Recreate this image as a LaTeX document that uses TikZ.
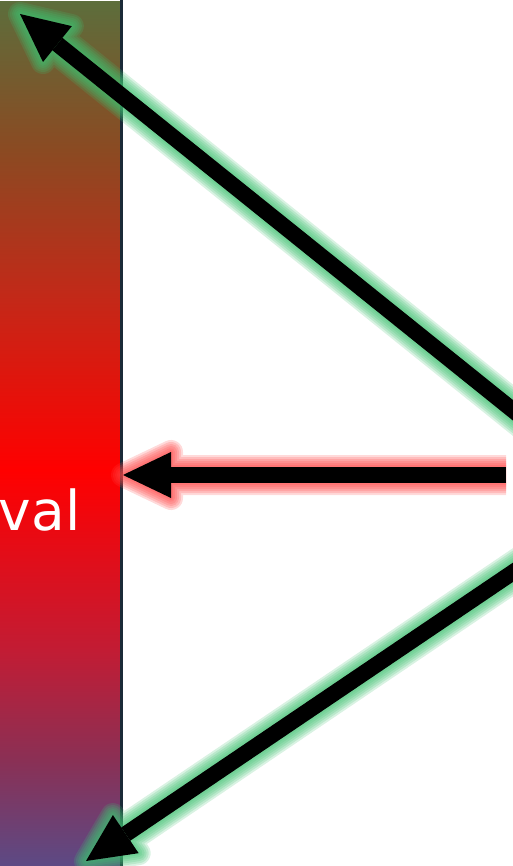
\documentclass[tikz,border=0pt]{standalone}
\usepackage{fontspec}
\usetikzlibrary{calc}
\newfontfamily\labelfont{DejaVu Sans}

\definecolor{bandA}{HTML}{5C6E3C}
\definecolor{bandB}{HTML}{8B4A22}
\definecolor{bandC}{HTML}{C42818}
\definecolor{bandD}{HTML}{FF0000}
\definecolor{bandE}{HTML}{C21C34}
\definecolor{bandF}{HTML}{8A3055}
\definecolor{bandG}{HTML}{5C4A85}
\definecolor{edgecol}{HTML}{1B2A38}
\definecolor{glowgreen}{HTML}{3FC070}
\definecolor{glowred}{HTML}{FF4545}

\pgfdeclareverticalshading{bandshade}{121pt}{%
  color(0pt)=(bandG); color(106pt)=(bandF); color(216pt)=(bandE);
  color(396pt)=(bandD); color(566pt)=(bandC); color(716pt)=(bandB);
  color(866pt)=(bandA)}

% arrow with a soft glow: #1 start, #2 tip, #3 glow colour
\newcommand{\glowarrow}[3]{%
  \coordinate (hb) at ($(#2)!48pt!(#1)$);
  \coordinate (hl) at ($(hb)!23pt!90:(#2)$);
  \coordinate (hr) at ($(hb)!23pt!-90:(#2)$);
  \foreach \g in {24,20,16,12,8,4} {
    \begin{scope}[transparency group, opacity=0.2]
      \draw[#3, line width=16pt+\g pt] (#1) -- (hb);
      \filldraw[#3, line width=\g pt, line join=round] (#2) -- (hl) -- (hr) -- cycle;
    \end{scope}
  }
  \draw[shaft] (#1) -- (hb);
  \fill[black] (#2) -- (hl) -- (hr) -- cycle;
}

\begin{document}
\begin{tikzpicture}[
  x=1pt, y=-1pt,
  shaft/.style={line width=16pt, black},
  lbl/.style={font=\labelfont\fontsize{55}{60}\selectfont, text=white, inner sep=0pt}
]
\useasboundingbox (0,0) rectangle (513,866);
\clip (0,0) rectangle (513,866);

% coloured band with its label
\node[inner sep=0pt, anchor=north west] (band) at (0,0) {\pgfuseshading{bandshade}};
\node[lbl, anchor=base east] (word) at (80.5,530) {Interval};
\draw[edgecol, line width=3pt] (band.north east) -- (band.south east);

% arrow ends
\coordinate (a0) at (540,432);
\coordinate (a1) at (20,14);
\coordinate (b0) at (506,475);
\coordinate (b1) at (123,475);
\coordinate (c0) at (540,554);
\coordinate (c1) at (86,861);

\glowarrow{a0}{a1}{glowgreen}
\glowarrow{b0}{b1}{glowred}
\glowarrow{c0}{c1}{glowgreen}
\end{tikzpicture}
\end{document}
